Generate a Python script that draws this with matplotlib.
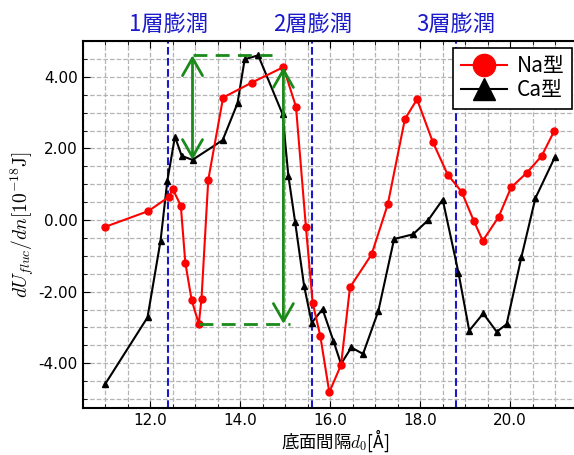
import numpy as np
import matplotlib
matplotlib.use('Agg')
import matplotlib.pyplot as plt
from matplotlib.ticker import MultipleLocator, FormatStrFormatter

plt.rcParams['mathtext.fontset'] = 'cm'
jp = ['Noto Sans CJK JP', 'DejaVu Sans']

# Na型
na_d = [11.00, 11.96, 12.42, 12.50, 12.68, 12.78, 12.92, 13.08, 13.14, 13.29,
        13.62, 14.26, 14.96, 15.24, 15.46, 15.61, 15.78, 15.98, 16.24, 16.44,
        16.92, 17.28, 17.66, 17.93, 18.28, 18.61, 18.92, 19.19, 19.39, 19.74,
        20.02, 20.37, 20.70, 20.98]
na_u = [-0.19, 0.25, 0.65, 0.87, 0.40, -1.19, -2.23, -2.90, -2.20, 1.12,
        3.42, 3.84, 4.27, 3.16, -0.19, -2.31, -3.24, -4.81, -4.05, -1.88,
        -0.96, 0.44, 2.82, 3.37, 2.18, 1.27, 0.79, -0.02, -0.58, 0.08,
        0.91, 1.32, 1.79, 2.49]

# Ca型
ca_d = [11.00, 11.94, 12.23, 12.38, 12.55, 12.70, 12.94, 13.61, 13.94, 14.10,
        14.40, 14.94, 15.07, 15.22, 15.42, 15.59, 15.83, 16.07, 16.24, 16.47,
        16.73, 17.07, 17.42, 17.84, 18.18, 18.50, 18.85, 19.09, 19.40, 19.70,
        19.92, 20.25, 20.56, 20.99]
ca_u = [-4.58, -2.72, -0.58, 1.09, 2.33, 1.79, 1.68, 2.23, 3.26, 4.49,
        4.60, 2.96, 1.24, -0.05, -1.84, -2.87, -2.49, -3.37, -4.02, -3.56,
        -3.74, -2.54, -0.53, -0.40, 0.00, 0.57, -1.47, -3.09, -2.61, -3.12,
        -2.91, -1.03, 0.61, 1.75]

swell_d = [12.4, 15.6, 18.8]
swell_lab = ['1層膨潤', '2層膨潤', '3層膨潤']

fig = plt.figure(figsize=(5.74, 4.55), dpi=100)
# axes runs a little past the right edge of the image (right spine cut off)
ax = fig.add_axes([82.7/574, 1-408/455, 504/574, 367/455])

ax.plot(na_d, na_u, '-o', color='red', lw=1.5, ms=5, label='Na型', zorder=4)
ax.plot(ca_d, ca_u, '-^', color='black', lw=1.5, ms=5, label='Ca型', zorder=3)

for d, lab in zip(swell_d, swell_lab):
    ax.axvline(d, color='#1a1acc', ls='--', lw=1.5, zorder=2)
    ax.text(d, 1.015, lab, transform=ax.get_xaxis_transform(), ha='center',
            va='bottom', fontsize=16, color='#1a1acc', family=jp)

# green arrows
g = '#1a8a1a'
i_lo = 6
x1 = ca_d[i_lo]
top = max(ca_u)
ax.annotate('', xy=(x1, top), xytext=(x1, ca_u[i_lo]),
            arrowprops=dict(arrowstyle='<->,head_length=0.7,head_width=0.4',
                            color=g, lw=2, mutation_scale=18, shrinkA=0, shrinkB=0),
            zorder=5)
ax.plot([x1, 14.7], [top, top], color=g, lw=2, dashes=(5, 3), zorder=5)

i_hi = int(np.argmax(na_u))
x2 = na_d[i_hi]
bot = na_u[7]
ax.annotate('', xy=(x2, bot), xytext=(x2, na_u[i_hi]),
            arrowprops=dict(arrowstyle='<->,head_length=0.7,head_width=0.4',
                            color=g, lw=2, mutation_scale=18, shrinkA=0, shrinkB=0),
            zorder=5)
ax.plot([na_d[7], 15.1], [bot, bot], color=g, lw=2, dashes=(5, 3), zorder=5)

ax.set_xlim(10.5, 21.7)
ax.set_ylim(-5.25, 5.0)
ax.xaxis.set_major_locator(MultipleLocator(2.0))
ax.xaxis.set_minor_locator(MultipleLocator(0.5))
ax.yaxis.set_major_locator(MultipleLocator(2.0))
ax.yaxis.set_minor_locator(MultipleLocator(0.5))
ax.xaxis.set_major_formatter(FormatStrFormatter('%.1f'))
ax.yaxis.set_major_formatter(FormatStrFormatter('%.2f'))
ax.tick_params(which='both', direction='in', top=True, right=True, labelsize=11)
ax.tick_params(which='major', length=5)
ax.tick_params(which='minor', length=3)
ax.grid(True, which='both', ls='--', color='#b4b4b4', lw=0.9)
for s in ax.spines.values():
    s.set_linewidth(1.5)

ax.set_xlabel('底面間隔$d_0$[Å]', fontsize=12.5, family=jp, labelpad=0)
ax.set_ylabel(r'$dU_{fluc}/dn[10^{-18}\mathrm{J}]$', fontsize=14, labelpad=2)

leg = ax.legend(loc='upper right', bbox_to_anchor=((572-82.7)/504, 0.981),
                borderaxespad=0, markerscale=3.2,
                prop={'family': jp, 'size': 15}, fancybox=False, framealpha=1,
                edgecolor='black', handlelength=2.2, borderpad=0.35,
                labelspacing=0.1, handletextpad=0.5)
leg.get_frame().set_linewidth(1.2)

fig.savefig('out.png', dpi=100)
